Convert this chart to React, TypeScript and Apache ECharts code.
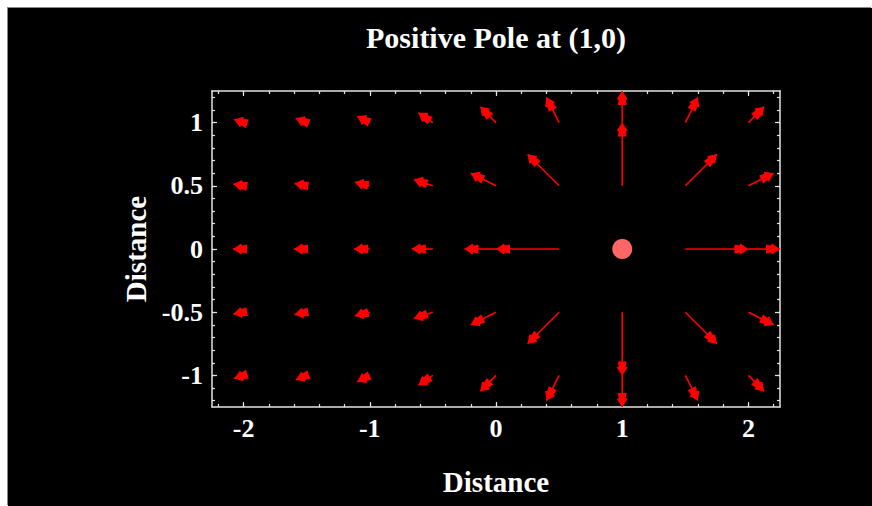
import React, { useEffect, useRef } from "react";
import * as echarts from "echarts";

// ---- data ----
const titleText = "Positive Pole at (1,0)";
const xName = "Distance";
const yName = "Distance";

const colX = [-2, -1.5, -1, -0.5, 0, 0.5, 1, 1.5, 2];
const rowY = [1, 0.5, 0, -0.5, -1];

// arrow displacement (tip - tail) in plot units, per row (top to bottom)
const fieldU: (number | null)[][] = [
  [-0.075, -0.086, -0.1, -0.115, -0.125, -0.1, 0, 0.1, 0.125],
  [-0.081, -0.096, -0.118, -0.15, -0.2, -0.25, 0, 0.25, 0.2],
  [-0.083, -0.1, -0.125, -0.167, -0.25, -0.5, null, 0.5, 0.25],
  [-0.081, -0.096, -0.118, -0.15, -0.2, -0.25, 0, 0.25, 0.2],
  [-0.075, -0.086, -0.1, -0.115, -0.125, -0.1, 0, 0.1, 0.125],
];
const fieldV: (number | null)[][] = [
  [0.025, 0.034, 0.05, 0.077, 0.125, 0.2, 0.25, 0.2, 0.125],
  [0.014, 0.019, 0.029, 0.05, 0.1, 0.25, 0.5, 0.25, 0.1],
  [0, 0, 0, 0, 0, 0, null, 0, 0],
  [-0.014, -0.019, -0.029, -0.05, -0.1, -0.25, -0.5, -0.25, -0.1],
  [-0.025, -0.034, -0.05, -0.077, -0.125, -0.2, -0.25, -0.2, -0.125],
];

const pole = [[1, 0]];

const xRange = [-2.25, 2.25];
const yRange = [-1.25, 1.25];
const xTickLabels = [-2, -1, 0, 1, 2];
const xMinorTicks = [-2.2, -2, -1.8, -1.6, -1.4, -1.2, -1, -0.8, -0.6, -0.4, -0.2, 0, 0.2, 0.4, 0.6, 0.8, 1, 1.2, 1.4, 1.6, 1.8, 2, 2.2];
const yTickLabels = [-1, -0.5, 0, 0.5, 1];
const yMinorTicks = [-1.2, -1.1, -1, -0.9, -0.8, -0.7, -0.6, -0.5, -0.4, -0.3, -0.2, -0.1, 0, 0.1, 0.2, 0.3, 0.4, 0.5, 0.6, 0.7, 0.8, 0.9, 1, 1.1, 1.2];

// ---- styling ----
const FONT = "Liberation Serif";
const frameColor = "#e4e4e4";
const arrowColor = "#ff0000";
const poleColor = "#ff6666";

const GRID = { left: 204, top: 83, width: 568, height: 316 };

function makeAxis(dim: "x" | "y", position: string, ticks: number[], len: number, main: boolean, labels?: number[], name?: string) {
  const range = dim === "x" ? xRange : yRange;
  const ax: any = {
    type: "value",
    position,
    min: range[0],
    max: range[1],
    gridIndex: 0,
    splitLine: { show: false },
    axisLine: { show: main, onZero: false, lineStyle: { color: frameColor, width: 1.5 } },
    axisTick: { show: true, inside: true, length: len, customValues: ticks, lineStyle: { color: frameColor, width: 1.2 } },
    axisLabel: labels
      ? {
          show: true,
          customValues: labels,
          color: "#ffffff",
          fontFamily: FONT,
          fontWeight: "bold",
          fontSize: 26,
          margin: dim === "x" ? 8 : 9,
        }
      : { show: false },
  };
  if (name) {
    ax.name = name;
    ax.nameLocation = "middle";
    ax.nameGap = dim === "x" ? 60 : 58;
    ax.nameRotate = dim === "x" ? 0 : 90;
    ax.nameTextStyle = { color: "#ffffff", fontFamily: FONT, fontWeight: "bold", fontSize: 29 };
  }
  return ax;
}

export default function App() {
  const ref = useRef<HTMLDivElement>(null);
  useEffect(() => {
    if (!ref.current) return;
    const chart = echarts.init(ref.current, undefined, { renderer: "svg" });

    const arrows: number[][] = [];
    rowY.forEach((y, i) => {
      colX.forEach((x, j) => {
        const u = fieldU[i][j];
        const v = fieldV[i][j];
        if (u === null || v === null) return;
        arrows.push([x, y, u, v]);
      });
    });

    const renderArrow = (_params: any, api: any) => {
      const x = api.value(0), y = api.value(1), u = api.value(2), v = api.value(3);
      const p0 = api.coord([x, y]);
      const p1 = api.coord([x + u, y + v]);
      const dx = p1[0] - p0[0], dy = p1[1] - p0[1];
      const len = Math.hypot(dx, dy) || 1;
      const ux = dx / len, uy = dy / len;
      const nx = -uy, ny = ux;
      const pt = (a: number, b: number) => [p1[0] + ux * a + nx * b, p1[1] + uy * a + ny * b];
      const head = [pt(0, 0), pt(-8, 5.5), pt(-9, 3.5), pt(-14, 4.5), pt(-14, -4.5), pt(-9, -3.5), pt(-8, -5.5)];
      return {
        type: "group",
        children: [
          { type: "line", shape: { x1: p0[0], y1: p0[1], x2: p1[0], y2: p1[1] }, style: { stroke: arrowColor, lineWidth: 1.6 } },
          { type: "polygon", shape: { points: head }, style: { fill: arrowColor } },
        ],
      };
    };

    const option: any = {
      animation: false,
      backgroundColor: "#000000",
      grid: { ...GRID, containLabel: false, outerBoundsMode: "none" },
      graphic: [
        {
          type: "text",
          x: GRID.left + GRID.width / 2,
          y: 29,
          style: {
            text: titleText,
            fill: "#ffffff",
            font: `bold 30px "${FONT}"`,
            align: "center",
            verticalAlign: "middle",
          },
        },
      ],
      xAxis: [
        makeAxis("x", "bottom", xTickLabels, 5, true, xTickLabels, xName),
        makeAxis("x", "bottom", xMinorTicks, 3, false),
        makeAxis("x", "top", xTickLabels, 5, true),
        makeAxis("x", "top", xMinorTicks, 3, false),
      ],
      yAxis: [
        makeAxis("y", "left", yTickLabels, 5, true, yTickLabels, yName),
        makeAxis("y", "left", yMinorTicks, 3, false),
        makeAxis("y", "right", yTickLabels, 5, true),
        makeAxis("y", "right", yMinorTicks, 3, false),
      ],
      series: [
        {
          type: "custom",
          xAxisIndex: 0,
          yAxisIndex: 0,
          renderItem: renderArrow,
          data: arrows,
          clip: false,
        },
        {
          type: "scatter",
          xAxisIndex: 0,
          yAxisIndex: 0,
          data: pole,
          symbol: "circle",
          symbolSize: 20,
          itemStyle: { color: poleColor, opacity: 1 },
          emphasis: { disabled: true },
        },
      ],
    };
    chart.setOption(option);
    return () => chart.dispose();
  }, []);

  return (
    <div
      ref={ref}
      style={{
        position: "fixed",
        left: 8,
        top: 8,
        width: 864,
        height: 498,
        background: "#000",
        boxShadow: "-1px -1px 0 #888",
      }}
    />
  );
}
